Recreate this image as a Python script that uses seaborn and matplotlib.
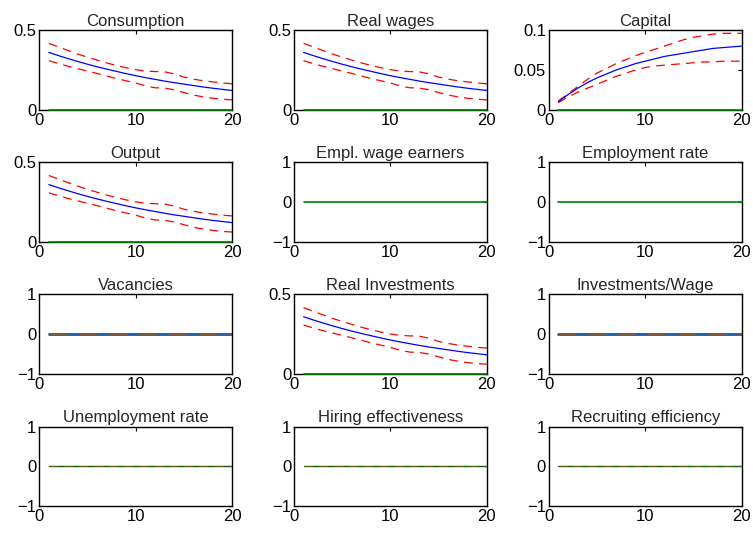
import matplotlib
matplotlib.use('Agg')
import matplotlib.pyplot as plt
import seaborn as sns

# horizons of the impulse responses
periods = list(range(1, 21))

# response shared by consumption, real wages, output and real investments
demand_mean = [0.360, 0.340, 0.321, 0.303, 0.286, 0.270, 0.255, 0.241, 0.227, 0.214,
               0.202, 0.191, 0.180, 0.170, 0.161, 0.152, 0.143, 0.135, 0.128, 0.121]
demand_upper = [0.417, 0.395, 0.372, 0.350, 0.330, 0.312, 0.294, 0.278, 0.264, 0.252,
                0.243, 0.240, 0.238, 0.225, 0.205, 0.192, 0.182, 0.175, 0.168, 0.163]
demand_lower = [0.308, 0.290, 0.273, 0.258, 0.243, 0.228, 0.212, 0.196, 0.182, 0.168,
                0.150, 0.138, 0.136, 0.125, 0.108, 0.092, 0.081, 0.072, 0.066, 0.062]

capital_mean = [0.010, 0.019, 0.027, 0.034, 0.040, 0.045, 0.050, 0.054, 0.058, 0.061,
                0.064, 0.067, 0.069, 0.071, 0.073, 0.075, 0.077, 0.078, 0.079, 0.080]
capital_upper = [0.011, 0.020, 0.029, 0.038, 0.046, 0.052, 0.058, 0.063, 0.068, 0.072,
                 0.076, 0.080, 0.084, 0.088, 0.091, 0.093, 0.095, 0.096, 0.096, 0.096]
capital_lower = [0.009, 0.016, 0.022, 0.027, 0.032, 0.037, 0.042, 0.046, 0.050, 0.053,
                 0.055, 0.056, 0.057, 0.058, 0.059, 0.060, 0.060, 0.061, 0.061, 0.061]

zero_path = [0.0, 0.0, 0.0, 0.0, 0.0, 0.0, 0.0, 0.0, 0.0, 0.0,
             0.0, 0.0, 0.0, 0.0, 0.0, 0.0, 0.0, 0.0, 0.0, 0.0]

titles = ['Consumption', 'Real wages', 'Capital',
          'Output', 'Empl. wage earners', 'Employment rate',
          'Vacancies', 'Real Investments', 'Investments/Wage',
          'Unemployment rate', 'Hiring effectiveness', 'Recruiting efficiency']

# (mean, upper, lower, y ticks, y tick labels, how the zero line is drawn)
panels = [
    (demand_mean, demand_upper, demand_lower, [0, 0.5], ['0', '0.5'], 'plain'),
    (demand_mean, demand_upper, demand_lower, [0, 0.5], ['0', '0.5'], 'plain'),
    (capital_mean, capital_upper, capital_lower, [0, 0.05, 0.1], ['0', '0.05', '0.1'], 'plain'),
    (demand_mean, demand_upper, demand_lower, [0, 0.5], ['0', '0.5'], 'plain'),
    (None, None, None, [-1, 0, 1], ['\u22121', '0', '1'], 'plain'),
    (None, None, None, [-1, 0, 1], ['\u22121', '0', '1'], 'plain'),
    (zero_path, zero_path, zero_path, [-1, 0, 1], ['\u22121', '0', '1'], 'blend'),
    (demand_mean, demand_upper, demand_lower, [0, 0.5], ['0', '0.5'], 'plain'),
    (zero_path, zero_path, zero_path, [-1, 0, 1], ['\u22121', '0', '1'], 'blend'),
    (None, zero_path, zero_path, [-1, 0, 1], ['\u22121', '0', '1'], 'faint'),
    (None, zero_path, zero_path, [-1, 0, 1], ['\u22121', '0', '1'], 'faint'),
    (None, zero_path, zero_path, [-1, 0, 1], ['\u22121', '0', '1'], 'faint'),
]

sns.set_theme(style='white')
plt.rcParams['font.family'] = ['Liberation Sans', 'DejaVu Sans']
plt.rcParams['font.size'] = 12
plt.rcParams['axes.unicode_minus'] = True

fig, axes = plt.subplots(4, 3, figsize=(7.53, 5.38), dpi=100)
fig.subplots_adjust(left=0.052, right=0.985, top=0.944, bottom=0.059,
                    wspace=0.32, hspace=0.66)

dash = (0, (7, 5))
for ax, title, (mean, upper, lower, yt, ytl, mode) in zip(axes.flat, titles, panels):
    if mode == 'faint':
        sns.lineplot(x=periods, y=zero_path, color='#006400', lw=1.0, ax=ax)
        sns.lineplot(x=periods, y=upper, color='#ff6060', linestyle=dash, lw=0.9,
                     alpha=0.35, ax=ax)
    elif mode == 'blend':
        sns.lineplot(x=periods, y=mean, color='blue', lw=1.8, ax=ax)
        sns.lineplot(x=periods, y=upper, color='red', linestyle=dash, lw=1.8, ax=ax)
        sns.lineplot(x=periods, y=zero_path, color='#2a9a6a', lw=1.8, alpha=0.6, ax=ax)
    else:
        if mean is not None:
            sns.lineplot(x=periods, y=upper, color='red', linestyle=dash, lw=0.9, ax=ax)
            sns.lineplot(x=periods, y=lower, color='red', linestyle=dash, lw=0.9, ax=ax)
            sns.lineplot(x=periods, y=mean, color='blue', lw=0.9, ax=ax)
        sns.lineplot(x=periods, y=zero_path, color='#008000', lw=1.2, zorder=3,
                     clip_on=False, ax=ax)

    ax.set_xlim(0, 20)
    ax.set_ylim(yt[0], yt[-1])
    ax.set_xticks([0, 10, 20])
    ax.set_xticklabels(['0', '10', '20'])
    ax.set_yticks(yt)
    ax.set_yticklabels(ytl)
    ax.tick_params(direction='in', length=3, width=0.8, top=True, right=True,
                   labelsize=12, pad=2, color='black', labelcolor='black')
    for s in ax.spines.values():
        s.set_color('black')
        s.set_linewidth(1.0)
    ax.set_title(title, fontsize=12, pad=3)
    ax.set_xlabel('')
    ax.set_ylabel('')

plt.savefig('out.png', dpi=100)
plt.close()
